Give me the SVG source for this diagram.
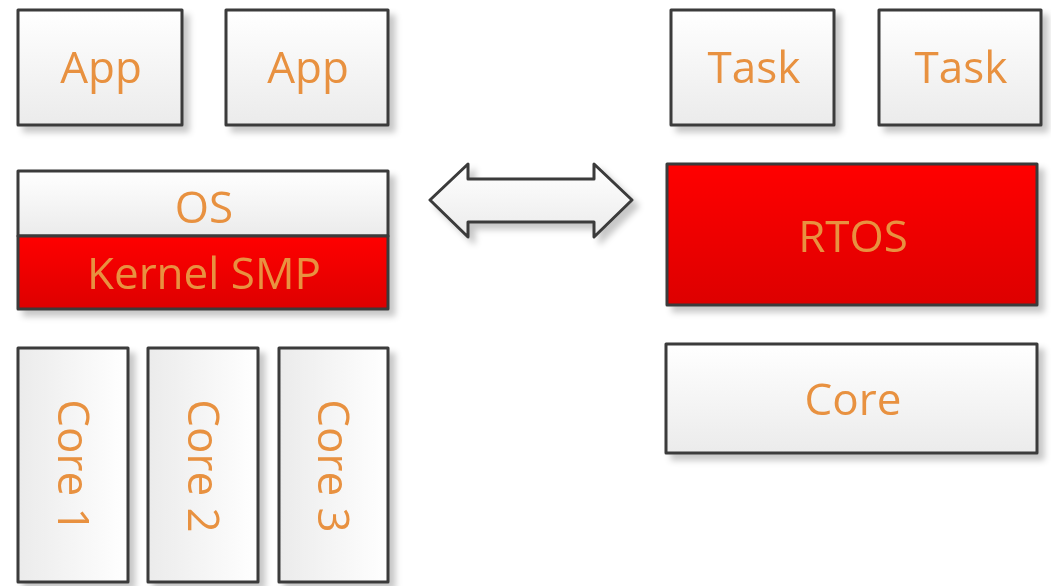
<svg xmlns="http://www.w3.org/2000/svg" width="1051" height="586" viewBox="0 0 1051 586">
<defs>
<linearGradient id="gw" x1="0" y1="0" x2="0" y2="1"><stop offset="0" stop-color="#ffffff"/><stop offset="1" stop-color="#ebebeb"/></linearGradient>
<linearGradient id="gwh" x1="1" y1="0" x2="0" y2="0"><stop offset="0" stop-color="#ffffff"/><stop offset="1" stop-color="#ebebeb"/></linearGradient>
<linearGradient id="gr" x1="0" y1="0" x2="0" y2="1"><stop offset="0" stop-color="#ff0000"/><stop offset="1" stop-color="#dd0000"/></linearGradient>
<filter id="sh" x="-10%" y="-10%" width="130%" height="140%"><feDropShadow dx="6" dy="6" stdDeviation="3" flood-color="#000" flood-opacity="0.22"/></filter>
</defs>
<style>
.b{stroke:#3a3a3a;stroke-width:3;stroke-linejoin:round}
.w{fill:url(#gw)}
.wh{fill:url(#gwh)}
.r{fill:url(#gr)}
.t{font-family:"Open Sans","Noto Sans",sans-serif;font-size:44px;fill:#e8913f;text-anchor:middle}
</style>
<rect width="1051" height="586" fill="#ffffff"/>
<g id="app1" filter="url(#sh)"><rect class="b w" x="18" y="10" width="164" height="115"/><text class="t" x="101" y="83">App</text></g>
<g id="app2" filter="url(#sh)"><rect class="b w" x="226" y="10" width="162" height="115"/><text class="t" x="308" y="83">App</text></g>
<g id="task1" filter="url(#sh)"><rect class="b w" x="671" y="10" width="163" height="115"/><text class="t" x="754" y="83">Task</text></g>
<g id="task2" filter="url(#sh)"><rect class="b w" x="879" y="10" width="162" height="115"/><text class="t" x="961" y="83">Task</text></g>
<g id="os" filter="url(#sh)">
<rect class="b w" x="18" y="171" width="370" height="65"/>
<rect class="b r" x="18" y="236" width="370" height="73"/>
<text class="t" x="204" y="223">OS</text>
<text class="t" x="204" y="289">Kernel SMP</text>
</g>
<g id="rtos" filter="url(#sh)"><rect class="b r" x="667" y="164" width="370" height="141"/><text class="t" x="853" y="252">RTOS</text></g>
<g id="core" filter="url(#sh)"><rect class="b w" x="666" y="344" width="371" height="109"/><text class="t" x="853" y="415">Core</text></g>
<g id="core1" filter="url(#sh)"><rect class="b wh" x="18" y="348" width="110" height="234"/><text class="t" transform="translate(58,466) rotate(90)">Core 1</text></g>
<g id="core2" filter="url(#sh)"><rect class="b wh" x="148" y="348" width="110" height="234"/><text class="t" transform="translate(188,466) rotate(90)">Core 2</text></g>
<g id="core3" filter="url(#sh)"><rect class="b wh" x="279" y="348" width="109" height="234"/><text class="t" transform="translate(318,466) rotate(90)">Core 3</text></g>
<g id="connectors" filter="url(#sh)">
<path class="b w" d="M430 200 L468 164 L468 179 L594 179 L594 164 L632 200 L594 237 L594 222 L468 222 L468 237 Z"/>
</g>
</svg>
